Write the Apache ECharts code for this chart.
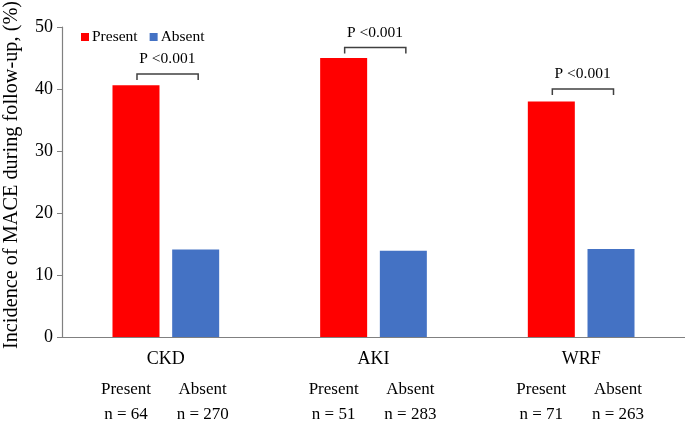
<!DOCTYPE html>
<html>
<head>
<meta charset="utf-8">
<script src="https://cdn.jsdelivr.net/npm/echarts@6/dist/echarts.min.js"></script>
<style>html,body{margin:0;padding:0;background:#fff}#c{width:685px;height:424px}</style>
</head>
<body>
<div id="c"></div>
<script>
var categories = ['CKD', 'AKI', 'WRF'];
var presentValues = [40.6, 45.0, 38.0];
var absentValues = [14.1, 13.9, 14.2];
var presentN = [64, 51, 71];
var absentN = [270, 283, 263];
var bracketLevels = [42.4, 46.7, 40.0];
var pLabels = ['P <0.001', 'P <0.001', 'P <0.001'];
var yTicks = [0, 10, 20, 30, 40, 50];
var yTitle = 'Incidence of MACE during follow-up, (%)';

var FONT = "'Liberation Serif', 'Times New Roman', serif";
var chart = echarts.init(document.getElementById('c'));
var BW = 47, GAPPCT = 27;
var half = (BW + BW * GAPPCT / 100) / 2;

chart.setOption({
  animation: false,
  grid: { left: 62, right: 0, top: 27, bottom: 87 },
  legend: {
    data: ['Present', 'Absent'],
    left: 76, top: 24,
    itemWidth: 8, itemHeight: 8, itemGap: 12,
    icon: 'rect',
    textStyle: { fontFamily: FONT, fontSize: 15.5, color: '#000', padding: [0, 0, 0, -2] }
  },
  graphic: [{
    type: 'text',
    x: 12, y: 175,
    rotation: Math.PI / 2,
    style: { text: yTitle, font: '20.3px ' + FONT, fill: '#000', textAlign: 'center', textVerticalAlign: 'middle' }
  }],
  xAxis: {
    type: 'category',
    data: categories,
    axisLine: { lineStyle: { color: '#808080', width: 1.2 } },
    axisTick: { show: false },
    axisLabel: { fontFamily: FONT, fontSize: 18, color: '#000', margin: 13 }
  },
  yAxis: {
    type: 'value',
    min: yTicks[0], max: yTicks[yTicks.length - 1], interval: 10,
    axisLine: { show: true, lineStyle: { color: '#808080', width: 1.2 } },
    axisTick: { show: true, length: 5, lineStyle: { color: '#808080' } },
    splitLine: { show: false },
    axisLabel: { fontFamily: FONT, fontSize: 18, color: '#000', margin: 9 }
  },
  series: [
    {
      name: 'Present', type: 'bar', data: presentValues,
      barWidth: BW, barGap: GAPPCT + '%',
      itemStyle: { color: '#FF0000' },
      label: {
        show: true, position: 'bottom', distance: 40, offset: [-10, 0],
        fontFamily: FONT, fontSize: 17, color: '#000', lineHeight: 25, align: 'center',
        formatter: function (p) { return 'Present\nn = ' + presentN[p.dataIndex]; }
      }
    },
    {
      name: 'Absent', type: 'bar', data: absentValues,
      barWidth: BW,
      itemStyle: { color: '#4472C4' },
      label: {
        show: true, position: 'bottom', distance: 40, offset: [7, 0],
        fontFamily: FONT, fontSize: 17, color: '#000', lineHeight: 25, align: 'center',
        formatter: function (p) { return 'Absent\nn = ' + absentN[p.dataIndex]; }
      }
    },
    {
      name: 'bracket', type: 'custom',
      data: bracketLevels.map(function (v, i) { return [i, v]; }),
      encode: { x: 0, y: 1 },
      silent: true,
      renderItem: function (params, api) {
        var c = api.coord([api.value(0), api.value(1)]);
        var x = c[0] + 1.5, y = c[1];
        return {
          type: 'group',
          children: [
            { type: 'polyline', shape: { points: [[x - half - 0.5, y + 6], [x - half - 0.5, y], [x + half + 1, y], [x + half + 1, y + 6]] },
              style: { stroke: '#404040', lineWidth: 1.5, fill: null } },
            { type: 'text', x: x, y: y - 7,
              style: { text: pLabels[params.dataIndex], font: '15.5px ' + FONT, fill: '#000', textAlign: 'center', textVerticalAlign: 'bottom' } }
          ]
        };
      }
    }
  ]
});
</script>
</body>
</html>
